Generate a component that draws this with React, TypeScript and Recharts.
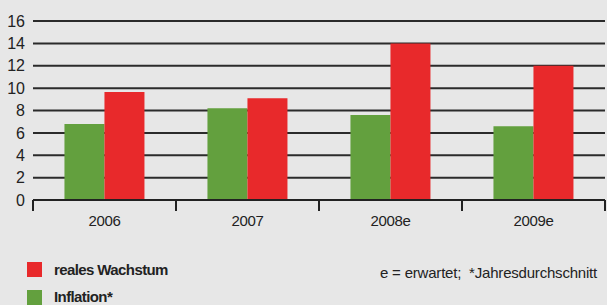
import React from 'react';
import { BarChart, Bar, XAxis, YAxis, CartesianGrid } from 'recharts';

const categories = ['2006', '2007', '2008e', '2009e'];
const inflation = [6.8, 8.2, 7.6, 6.6];
const realGrowth = [9.65, 9.1, 14.0, 12.0];
const yTicks = [0, 2, 4, 6, 8, 10, 12, 14, 16];
const seriesNames = { growth: 'reales Wachstum', inflation: 'Inflation*' };
const note = 'e = erwartet;  *Jahresdurchschnitt';

const data = categories.map((c, i) => ({ name: c, inflation: inflation[i], growth: realGrowth[i] }));

const RED = '#e8292b';
const GREEN = '#63a03e';
const BG = '#e7e7e7';
const FONT = '"Liberation Sans", Arial, sans-serif';

const XTick = (props: any) => {
  const { x, y, payload, index } = props;
  const off = payload.offset || 0;
  const last = index === categories.length - 1;
  return (
    <g>
      <line x1={x - off} x2={x - off} y1={y - 8} y2={y + 3} stroke="#222" strokeWidth={2} />
      {last && <line x1={x + off} x2={x + off} y1={y - 8} y2={y + 3} stroke="#222" strokeWidth={2} />}
      <text x={x} y={y + 18} textAnchor="middle" fontSize={15} fill="#222" fontFamily={FONT} letterSpacing={-0.3}>
        {payload.value}
      </text>
    </g>
  );
};

export default function App() {
  return (
    <div style={{ position: 'absolute', left: 0, top: 0, width: 607, height: 305, background: BG, fontFamily: FONT, overflow: 'hidden' }}>
      <BarChart width={607} height={305} data={data} margin={{ top: 21, right: 2, left: 0, bottom: 75 }} barCategoryGap="22%" barGap={0}>
        <CartesianGrid horizontal vertical={false} stroke="#2b2b2b" strokeWidth={2} />
        <YAxis domain={[0, 16]} ticks={yTicks} width={33} axisLine={false} tickLine={false} tickMargin={2}
          tick={{ fontSize: 16, fill: '#222', fontFamily: FONT }} interval={0} />
        <XAxis dataKey="name" axisLine={{ stroke: '#222', strokeWidth: 2 }} tickLine={false} tick={<XTick />} height={30} interval={0} />
        <Bar dataKey="inflation" fill={GREEN} isAnimationActive={false} />
        <Bar dataKey="growth" fill={RED} isAnimationActive={false} />
      </BarChart>
      <div style={{ position: 'absolute', left: 27, top: 262, width: 15, height: 15, background: RED }} />
      <div style={{ position: 'absolute', left: 54, top: 261, fontSize: 15, fontWeight: 'bold', color: '#222', lineHeight: '17px', letterSpacing: '-0.6px' }}>{seriesNames.growth}</div>
      <div style={{ position: 'absolute', left: 27, top: 290, width: 15, height: 15, background: GREEN }} />
      <div style={{ position: 'absolute', left: 54, top: 288, fontSize: 15, fontWeight: 'bold', color: '#222', lineHeight: '17px', letterSpacing: '-0.6px' }}>{seriesNames.inflation}</div>
      <div style={{ position: 'absolute', left: 380, top: 264, fontSize: 15, color: '#222', lineHeight: '18px', whiteSpace: 'pre', letterSpacing: '-0.2px' }}>{note}</div>
    </div>
  );
}
